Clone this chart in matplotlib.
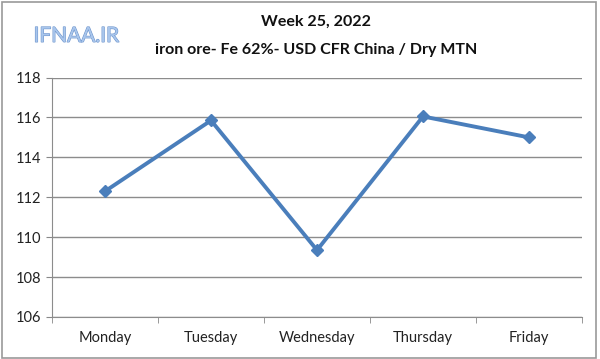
import matplotlib
matplotlib.use("Agg")
import matplotlib.pyplot as plt
from matplotlib.patches import Rectangle
import matplotlib.patheffects as pe

days = ["Monday", "Tuesday", "Wednesday", "Thursday", "Friday"]
prices = [112.3, 115.85, 109.35, 116.05, 115.0]
y_ticks = [106, 108, 110, 112, 114, 116, 118]

plt.rcParams['font.family'] = ['Lato', 'DejaVu Sans']

fig = plt.figure(figsize=(6, 3.59), dpi=100)
ax = fig.add_axes([0.0867, 0.117, 0.8833, 0.667])

x = list(range(len(days)))
ax.plot(x, prices, color='#4a7ebb', linewidth=2.8, marker='D', markersize=6,
        markerfacecolor='#4a7ebb', markeredgecolor='#4a7ebb', zorder=3)

ax.set_xlim(-0.5, len(days) - 0.5)
ax.set_ylim(106, 118)
ax.set_yticks(y_ticks)
ax.set_yticklabels([str(t) for t in y_ticks], fontsize=10.5, color='#222222')

# category labels at centers, ticks at boundaries
ax.set_xticks(x)
ax.set_xticklabels(days, fontsize=10.5, color='#222222')
ax.tick_params(axis='x', length=0, pad=10)
ax.set_xticks([i - 0.5 for i in range(len(days) + 1)], minor=True)
ax.tick_params(axis='x', which='minor', length=4, color='#888888', direction='out')
ax.tick_params(axis='y', length=4, color='#888888', direction='out', pad=4)

ax.grid(axis='y', color='#8c8c8c', linewidth=1)
ax.set_axisbelow(True)
for side in ['top', 'right']:
    ax.spines[side].set_visible(False)
for side in ['left', 'bottom']:
    ax.spines[side].set_color('#8c8c8c')

fig.text(0.527, 0.938, "Week 25, 2022", ha='center', va='center',
         fontsize=11.5, fontweight='bold', color='#111111')
fig.text(0.527, 0.86, "iron ore- Fe 62%- USD CFR China / Dry MTN", ha='center',
         va='center', fontsize=11.5, fontweight='bold', color='#111111')

wm = fig.text(0.127, 0.9, "IFNAA.IR", ha='center', va='center', fontsize=15,
              color='#a9c6ec')
wm.set_path_effects([pe.withStroke(linewidth=0.8, foreground='#6b93cc')])

fig.patches.append(Rectangle((0.004, 0.004), 0.99, 0.99, transform=fig.transFigure,
                             fill=False, edgecolor='#999999', linewidth=1.2))

fig.savefig("out.png", dpi=100)
